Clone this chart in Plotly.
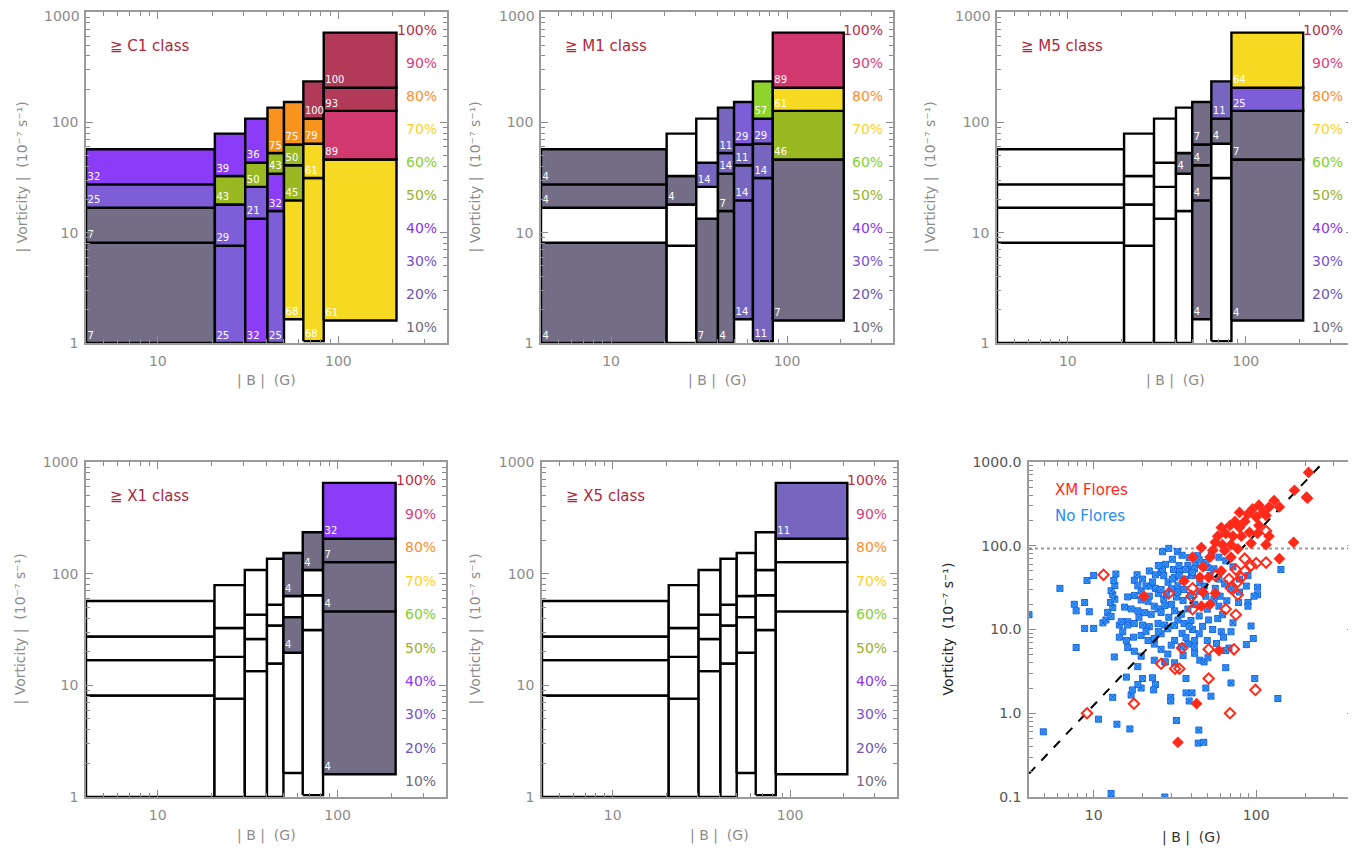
import math
import plotly.graph_objects as go

# page body has an 8px margin: figure is placed at (8, 8) and fills the rest of the window
OFF = 8
W, H = 1356 - OFF, 848 - OFF

# ---------------- data ----------------
B_EDGES = [4, 20.7, 30.5, 40.5, 50, 64, 83, 210]          # |B| bin edges (G)
V_EDGES = [                                               # vorticity bin edges per |B| column
    [1.0, 8.1, 16.8, 27.4, 57],
    [1.0, 7.6, 18.0, 32.6, 79],
    [1.0, 13.4, 26.0, 43.0, 108],
    [1.0, 15.7, 34.3, 52.7, 136],
    [1.64, 19.6, 40.8, 63.0, 153],
    [1.04, 31.3, 64.0, 108.0, 235],
    [1.6, 46.0, 127.0, 206.0, 650],
]
CLASS_NAMES = ["C1", "M1", "M5", "X1", "X5"]
N = None
PCT_C1 = [[7, 7, 25, 32], [25, 29, 43, 39], [32, 21, 50, 36], [25, 32, 43, 75],
          [68, 45, 50, 75], [68, 61, 79, 100], [61, 89, 93, 100]]
PCT_M1 = [[4, N, 4, 4], [N, N, 4, N], [7, N, 14, N], [4, 7, 14, 11],
          [14, 14, 11, 29], [11, 14, 29, 57], [7, 46, 61, 89]]
PCT_M5 = [[N, N, N, N], [N, N, N, N], [N, N, N, N], [N, N, 4, N],
          [4, 4, 4, 7], [N, N, 4, 11], [4, 7, 25, 64]]
PCT_X1 = [[N, N, N, N], [N, N, N, N], [N, N, N, N], [N, N, N, N],
          [N, 4, N, 4], [N, N, N, 4], [4, 4, 7, 32]]
PCT_X5 = [[N, N, N, N], [N, N, N, N], [N, N, N, N], [N, N, N, N],
          [N, N, N, N], [N, N, N, N], [N, N, N, 11]]
PCT_ALL = [PCT_C1, PCT_M1, PCT_M5, PCT_X1, PCT_X5]
PCT_LABELS = ["10%", "20%", "30%", "40%", "50%", "60%", "70%", "80%", "90%", "100%"]
Y_TICKS = [1, 10, 100, 1000]
Y_TICK_TEXT = ["1", "10", "100", "1000"]
Y_TICKS6 = [0.1, 1, 10, 100, 1000]
Y_TICK_TEXT6 = ["0.1", "1.0", "10.0", "100.0", "1000.0"]
X_TICKS = [10, 100]
X_TICK_TEXT = ["10", "100"]

# scatter panel
NOFLARE_B = [4.0, 4.9, 6.2, 7.6, 8.8, 7.8, 9.4, 8.8, 10, 7.8, 10, 9.1, 10.7, 11.4, 11.9, 12.2, 12.8,
             13.1, 12.7, 13.5, 13.1, 12.8, 13.5, 13.3, 13.7, 13.4, 12.8, 13.9, 13.1, 14.4, 15.1, 16.2,
             15.9, 16.7, 17, 17.3, 18.7, 20, 23, 24, 19.6, 23.4, 17.8, 18.7, 19.6, 24, 26, 27, 21,
             22.5, 24, 16.2, 17.8, 19.6, 21.6, 23.6, 15.5, 17, 18.7, 20.6, 22.6, 24.9, 27.4, 30.1,
             14.8, 16.2, 17.8, 20, 22, 24.9, 27.4, 14.4, 15.9, 17.6, 19.6, 21.6, 23.6, 26, 28.6, 31.5,
             36, 39.7, 31.5, 34.6, 38, 41.8, 32.3, 35.5, 39.4, 30.1, 33, 36.3, 40, 41.8, 38, 33.8,
             31.5, 28.7, 17.8, 19.6, 16.2, 23.6, 26, 28.6, 23.6, 27.4, 31.5, 34.6, 38, 41.8, 18.7,
             27.4, 32.3, 44.4, 44, 47.6, 37, 40.3, 38.7, 29.8, 29.8, 52.7, 49, 37, 31.5, 27.6, 35.5,
             41.8, 45, 47.8, 50.5, 65, 70, 98, 136, 68, 65, 87, 142, 102, 102, 97, 89, 89, 93, 96, 61,
             63, 70, 26.5, 29, 32.8, 35, 30.5, 27.7, 26.5, 31, 33.5, 38.7, 43.6, 42.5, 36.8, 40.6,
             33.5, 30.5, 44.6, 49, 55, 59, 50, 44.6, 51, 58, 46.8, 54, 44.6, 50, 41.6, 40.6, 38.7, 52,
             55, 50, 59, 64, 70, 79, 87, 89, 79, 72, 65, 59, 53, 49, 44.6, 22, 25, 27, 20, 23, 26,
             29, 33, 35, 37, 19, 21, 25, 30, 33, 36, 26, 28, 45, 48, 56, 60, 66, 62, 57, 72, 78, 25,
             22, 18.5]
NOFLARE_V = [15, 0.6, 31, 20, 21, 16.7, 16.3, 10.3, 10.3, 6.1, 44, 38.5, 0.85, 12, 13, 16, 14.3,
             18.2, 21, 23, 26, 29, 33.5, 38.5, 46, 4.7, 0.11, 0.74, 1.55, 11.3, 9.4, 12.4,
             2.7, 0.65, 1.65, 1.9, 3.6, 2.6, 2.65, 2.2, 2.0, 1.9, 38.7, 33.3, 28.8, 45, 48, 44, 33,
             33, 31, 24.5, 25.5, 22.5, 21.7, 19, 18.5, 17.6, 16.7, 15.9, 15.2, 17.6, 19.3, 20,
             12.4, 11.3, 11.8, 11.3, 10.8, 11.8, 11.3, 8.1, 7.4, 8.1, 8.5, 7.4, 7.8, 8.9, 10.2, 11.2,
             11.8, 12.8, 16.7, 15.2, 17.6, 20, 24.4, 22.2, 25.5, 30.6, 33.3, 40, 44, 53, 58, 50,
             42, 36.7, 5.5, 4.8, 6.1, 6.7, 5.8, 5.1, 4.3, 4.1, 7.4, 6.2, 6.7, 7.4, 2.2,
             0.1, 0.82, 0.63, 0.44, 0.45, 1.75, 1.75, 1.4, 1.55, 1.4, 1.6, 2.0, 2.6, 4.0, 4.1, 4.9,
             5.2, 4.3, 4.1, 4.6, 3.5, 2.3, 2.6, 1.5, 6.0, 5.6, 6.6, 52, 32, 26, 25, 21, 19, 11, 7.8, 9.4,
             8.1, 9.4, 85, 93, 85, 77, 69, 60, 52, 52, 58, 72, 76, 63, 52, 48,
             44, 40, 28.6, 25, 23, 19, 17.5, 14.5, 13, 13.5, 10.9, 10, 8.9, 7.4, 6.2, 10, 10.9, 44,
             53, 55, 40, 35, 30.6, 28, 33, 44, 40, 56, 66, 73, 77, 63, 68, 25, 27, 23, 40, 37, 30,
             14, 13, 9, 8, 14, 9.5, 9.5, 6.5, 28, 30, 16, 26, 36, 33, 31, 25, 22, 15, 6.8, 12, 21, 58,
             50, 45]
FLARE_FILLED_B = [210, 172, 204, 207, 129, 139, 120, 104, 95, 110, 79, 89, 115, 100, 104, 85, 74,
                  69, 61, 79, 91, 102, 120, 81, 72, 65, 58, 56, 62, 70, 93, 115, 170, 46, 54, 64,
                  77, 40.6, 52, 70, 139, 47, 36, 45, 51, 61, 47, 56, 52, 46, 20.4, 59, 43, 33]
FLARE_FILLED_V = [750, 460, 380, 370, 347, 290, 290, 305, 275, 250, 250, 240, 230, 220, 175, 195, 195,
                  175, 165, 165, 145, 140, 130, 130, 130, 140, 130, 110, 103, 103, 107, 103, 110, 95,
                  88, 88, 92, 73, 73, 73, 70, 56, 38, 42, 42, 50, 28, 27, 20, 19, 25, 5.6, 1.3, 0.45]
FLARE_OPEN_B = [85, 100, 115, 93, 56, 75, 85, 81, 68, 77, 29, 40.6, 40, 70, 77, 40.6, 65, 75,
                11.5, 35, 26, 31.7, 33.7, 51, 73, 51, 17.7, 9.1, 69, 99, 115]
FLARE_OPEN_V = [70, 62, 63, 58, 44, 52, 50, 42, 40, 37, 27, 31, 25, 31, 26, 17.5, 17.5, 15,
                45, 6.0, 3.9, 3.4, 3.4, 5.8, 5.8, 2.6, 1.3, 1.0, 1.0, 1.9, 150]
DIAG_B = [4, 260]
DIAG_V = [0.19, 1000]
THRESH_V = 93

# ---------------- styles ----------------
FILL_COLORS = ["#736e86", "#7666c0", "#7d5ed8", "#8b3cf6", "#9ab822",
               "#8fd42c", "#f6da22", "#f8941e", "#d0386e", "#b03a58"]
LABEL_COLORS = ["#6e6a80", "#6a56b8", "#7650d4", "#8a34f2", "#98b02c",
                "#84d030", "#ffd024", "#ff8c2c", "#d8407a", "#b82e48"]
TITLE_RED = "#b0283c"
TICK_GRAY = "#8c8c8c"
FONT = "DejaVu Sans"

PANELS = [  # left, right, top, bottom in page pixels
    (86, 447, 12, 343),
    (541, 893, 12, 343),
    (997, 1353, 12, 343),
    (86, 446, 462, 797),
    (542, 897, 462, 797),
    (1029, 1354, 462, 797),
]
YTITLE_X = [22, 475, 930, 20, 475, 947]


def px(x):
    return (x - OFF) / W


def py(y):
    return 1 - (y - OFF) / H


def bucket(v):
    return min(9, max(0, math.ceil(v / 10) - 1))


fig = go.Figure()

for p, vals in enumerate(PCT_ALL):
    xa = "x" if p == 0 else f"x{p + 1}"
    ya = "y" if p == 0 else f"y{p + 1}"
    tx, ty, tt = [], [], []
    for c in range(len(B_EDGES) - 1):
        x0, x1 = B_EDGES[c], B_EDGES[c + 1]
        for r in range(4):
            y0, y1 = V_EDGES[c][r], V_EDGES[c][r + 1]
            v = vals[c][r]
            fill = "#ffffff" if v is None else FILL_COLORS[bucket(v)]
            fig.add_trace(go.Scatter(
                x=[x0, x1, x1, x0, x0], y=[y0, y0, y1, y1, y0],
                mode="lines", fill="toself", fillcolor=fill,
                line=dict(color="black", width=2.4),
                xaxis=xa, yaxis=ya, hoverinfo="skip", showlegend=False))
            if v is not None:
                tx.append(x0 * 1.02)
                ty.append(y0 * 1.04)
                tt.append(str(v))
    fig.add_trace(go.Scatter(
        x=tx, y=ty, text=tt, mode="text", textposition="top right",
        textfont=dict(color="white", size=10, family=FONT),
        xaxis=xa, yaxis=ya, hoverinfo="skip", showlegend=False))

# scatter panel
fig.add_trace(go.Scatter(
    x=[4, 400], y=[THRESH_V, THRESH_V], mode="lines",
    line=dict(color="#9a9a9a", width=2, dash="dot"),
    xaxis="x6", yaxis="y6", hoverinfo="skip", showlegend=False))
fig.add_trace(go.Scatter(
    x=NOFLARE_B, y=NOFLARE_V, mode="markers",
    marker=dict(symbol="square-x", size=6, color="#3aa0ff",
                line=dict(color="#1a66e0", width=1)),
    xaxis="x6", yaxis="y6", showlegend=False))
fig.add_trace(go.Scatter(
    x=DIAG_B, y=DIAG_V, mode="lines",
    line=dict(color="black", width=2, dash="dash"),
    xaxis="x6", yaxis="y6", hoverinfo="skip", showlegend=False))
fig.add_trace(go.Scatter(
    x=FLARE_OPEN_B, y=FLARE_OPEN_V, mode="markers",
    marker=dict(symbol="diamond-open", size=8, color="#ff2a1a",
                line=dict(color="#ff2a1a", width=2)),
    xaxis="x6", yaxis="y6", showlegend=False))
fig.add_trace(go.Scatter(
    x=FLARE_FILLED_B, y=FLARE_FILLED_V, mode="markers",
    marker=dict(symbol="diamond", size=9, color="#ff2a1a"),
    xaxis="x6", yaxis="y6", showlegend=False))

# ---------------- axes ----------------
X_MINOR = [5, 6, 7, 8, 9, 20, 30, 40, 50, 60, 70, 80, 90, 200, 300, 400]
Y_MINOR = [2, 3, 4, 5, 6, 7, 8, 9, 20, 30, 40, 50, 60, 70, 80, 90, 200, 300, 400, 500, 600, 700, 800, 900]
Y_MINOR6 = [0.2, 0.3, 0.4, 0.5, 0.6, 0.7, 0.8, 0.9] + Y_MINOR

layout = dict(width=W, height=H, margin=dict(l=0, r=0, t=0, b=0, pad=0, autoexpand=False),
              paper_bgcolor="white", plot_bgcolor="white", showlegend=False,
              font=dict(family=FONT))
annotations = []

for i, (l, r, t, b) in enumerate(PANELS):
    sfx = "" if i == 0 else str(i + 1)
    dark = i == 5
    top_row = t < 100
    tickcol = "#555555" if dark else TICK_GRAY
    common = dict(type="log", showgrid=False, zeroline=False, showline=True,
                  linecolor="#9a9a9a", linewidth=1.5, mirror="allticks", automargin=False,
                  ticks="inside", ticklen=7, tickwidth=1, tickcolor="#8a8a8a",
                  ticklabeloverflow="allow",
                  tickfont=dict(family=FONT, size=14, color=tickcol))
    layout["xaxis" + sfx] = dict(
        common, domain=[px(l), px(r)], anchor="y" + sfx,
        range=[math.log10(4), math.log10(400)],
        tickvals=X_TICKS, ticktext=X_TICK_TEXT, ticklabelstandoff=4,
        minor=dict(tickvals=X_MINOR, ticks="inside", ticklen=4, tickcolor="#8a8a8a"))
    if dark:
        yv, yt, yr, ym = Y_TICKS6, Y_TICK_TEXT6, [-1, 3], Y_MINOR6
    else:
        yv, yt, yr, ym = Y_TICKS, list(Y_TICK_TEXT), [0, 3], Y_MINOR
        if top_row:
            # the top label sits just below the page edge, as in the reference
            annotations.append(dict(
                text=yt[-1], xref="paper", yref="paper", x=px(l), y=py(t + 4),
                xshift=-4, xanchor="right", yanchor="middle", showarrow=False,
                font=dict(family=FONT, size=14, color=tickcol)))
            yt[-1] = ""
    layout["yaxis" + sfx] = dict(
        common, domain=[py(b), py(t)], anchor="x" + sfx,
        range=yr, tickvals=yv, ticktext=yt, ticklabelstandoff=3,
        minor=dict(tickvals=ym, ticks="inside", ticklen=4, tickcolor="#8a8a8a"))

    # axis titles
    xt_y = 380 if top_row else (837 if dark else 835)
    annotations.append(dict(
        text="| B |  (G)", xref="paper", yref="paper",
        x=px((l + r) / 2), y=py(xt_y), showarrow=False,
        xanchor="center", yanchor="middle",
        font=dict(family=FONT, size=14, color="#333333" if dark else TICK_GRAY)))
    ytitle = "Vorticity  (10⁻⁷ s⁻¹)" if dark else "| Vorticity |  (10⁻⁷ s⁻¹)"
    annotations.append(dict(
        text=ytitle, xref="paper", yref="paper", textangle=-90,
        x=px(YTITLE_X[i]), y=py((t + b) / 2), showarrow=False,
        xanchor="center", yanchor="middle",
        font=dict(family=FONT, size=14, color="#222222" if dark else TICK_GRAY)))

    if i < 5:
        annotations.append(dict(
            text="≧ " + CLASS_NAMES[i] + " class", xref="x" + sfx + " domain",
            yref="y" + sfx + " domain", x=0, y=1, xshift=22, yshift=-34,
            xanchor="left", yanchor="middle", showarrow=False,
            font=dict(family=FONT, size=15, color=TITLE_RED)))
        for k, lab in enumerate(PCT_LABELS):
            annotations.append(dict(
                text=lab, xref="x" + sfx + " domain", yref="y" + sfx + " domain",
                x=1, y=0.047 + k * (0.945 - 0.047) / 9, xshift=-8,
                xanchor="right", yanchor="middle", showarrow=False,
                font=dict(family=FONT, size=14, color=LABEL_COLORS[k])))

annotations.append(dict(text="XM Flores", xref="x6 domain", yref="y6 domain",
                        x=0, y=1, xshift=24, yshift=-28, xanchor="left", yanchor="middle",
                        showarrow=False, font=dict(family=FONT, size=15, color="#ff2a1a")))
annotations.append(dict(text="No Flores", xref="x6 domain", yref="y6 domain",
                        x=0, y=1, xshift=24, yshift=-54, xanchor="left", yanchor="middle",
                        showarrow=False, font=dict(family=FONT, size=15, color="#2a8cf0")))

layout["annotations"] = annotations
fig.update_layout(**layout)
fig.write_html("out.html")
